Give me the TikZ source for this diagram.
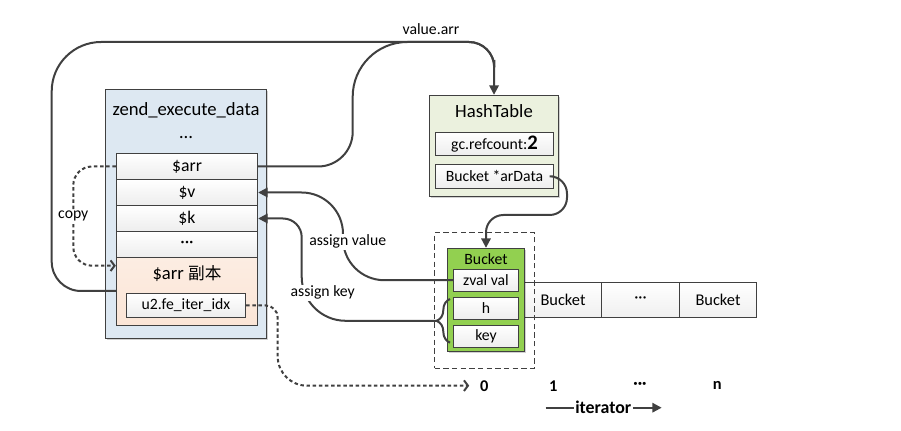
\documentclass[tikz,border=0pt]{standalone}
\usepackage{fontspec}
\setmainfont{Carlito}
\newfontfamily\cjk{Noto Sans CJK SC}
\usetikzlibrary{arrows.meta,calc,shadows,decorations.pathreplacing}
\definecolor{zdBlue}{RGB}{221,232,242}
\definecolor{zdOrange}{RGB}{251,229,214}
\definecolor{zdOlive}{RGB}{235,241,222}
\definecolor{zdGreen}{RGB}{146,208,80}
\definecolor{zdGray}{RGB}{64,64,64}
\newcommand\fsBig{\fontsize{14}{16}\selectfont}
\newcommand\fsRow{\fontsize{13.3}{15}\selectfont}
\newcommand\fsSmall{\fontsize{11.8}{13}\selectfont}
\newcommand\mdots{\textperiodcentered\textperiodcentered\textperiodcentered}
\tikzset{
  box/.style={draw=zdGray, line width=0.75pt, inner sep=0pt},
  shd/.style={drop shadow={shadow xshift=1.3pt, shadow yshift=-1.3pt, fill=black, opacity=0.18}},
  row/.style={box, top color=white, bottom color=gray!14, minimum width=106pt, minimum height=19.5pt, font=\fsRow},
  ibox/.style={box, top color=white, bottom color=gray!14, minimum width=88.8pt, minimum height=17.6pt, font=\fsSmall},
  cell/.style={box, top color=white, bottom color=gray!12, minimum width=58pt, minimum height=26.25pt, font=\fontsize{12.3}{14}\selectfont},
  lbl/.style={font=\fsSmall, inner sep=1pt},
  idx/.style={font=\fontsize{12.3}{14}\selectfont\bfseries, inner sep=2pt},
  link/.style={draw=zdGray, line width=1.5pt},
  ptr/.style={link, -{Triangle[length=7pt,width=7pt]}},
  dptr/.style={link, dash pattern=on 2.6pt off 2pt, -{Straight Barb[length=3pt,width=8pt]}}
}

\begin{document}
\begin{tikzpicture}[x=0.75pt, y=-0.75pt]
  \useasboundingbox (0,0) rectangle (901,431);

  % execute data frame
  \node[box, fill=zdBlue, shd, minimum width=121pt, minimum height=186.5pt] (zed) at (186,213.7) {};
  \node[font=\fsBig] (zedT) at (186,110) {zend\_execute\_data};
  \node[font=\fsBig, inner sep=0pt] (zedD) at (186,138) {\dots};
  \foreach \y/\nm/\txt in {166.5/rArr/\$arr, 192.5/rV/\$v, 218.5/rK/\$k, 244.5/rDots/\mdots}
    \node[row] (\nm) at (187,\y) {\txt};
  \node[box, top color=zdOrange!70, bottom color=zdOrange, minimum width=106pt, minimum height=50.9pt] (orng) at (187,291.4) {};
  \node[font=\fsBig] (orngT) at (187,274) {\$arr {\cjk\fontsize{12.5}{14}\selectfont 副本}};
  \node[ibox, minimum width=89.5pt] (iter) at (186,305.5) {u2.fe\_iter\_idx};

  % hash table
  \node[box, fill=zdOlive, shd, minimum width=96.5pt, minimum height=75.75pt] (ht) at (494,145.8) {};
  \node[font=\fsBig] (htT) at (494,111) {HashTable};
  \node[ibox] (rc) at (494.5,143.8) {gc.refcount:{\fontsize{15.5}{16}\selectfont\bfseries 2}};
  \node[ibox, minimum height=18pt] (ard) at (494.5,176.3) {Bucket *arData};

  % buckets
  \foreach \x/\nm/\txt in {563/cA/Bucket, 640.5/cB/\mdots, 718/cC/Bucket}
    \node[cell] (\nm) at (\x,299.8) {\txt};
  \node[draw=zdGray, line width=0.6pt, dash pattern=on 4pt off 2.5pt, minimum width=74.5pt, minimum height=102pt] (frm) at (484.3,300.3) {};
  \node[box, fill=zdGreen, shd, minimum width=57.5pt, minimum height=77.5pt] (bkt) at (486,300) {};
  \node[font=\fsSmall] (bktT) at (486,259) {Bucket};
  \node[ibox, minimum width=49pt, minimum height=16.3pt] (zv) at (486,280.2) {zval val};
  \node[ibox, minimum width=49pt, minimum height=16.5pt] (hh) at (486,308.3) {h};
  \node[ibox, minimum width=49pt, minimum height=16.8pt] (ky) at (486,336.5) {key};

  % iterator positions
  \foreach \x/\nm/\txt in {484.3/i0/0, 553.3/i1/1, 640/i2/\mdots, 717.3/i3/n}
    \node[idx] (\nm) at (\x,385.7) {\txt};
  \node[font=\fontsize{13.4}{15}\selectfont\bfseries, inner sep=1pt] (itr) at (603.3,407.7) {iterator};
  \coordinate (itA) at (545.7,407.7);
  \coordinate (itB) at (661.7,407.7);
  \draw[link] (itA) -- (itr.west);
  \draw[ptr] (itr.east) -- (itB);

  % value.arr pointers
  \draw[ptr] (orng.west |- 0,291) [rounded corners=22pt] -- (51.7,291) [rounded corners=37pt] -- (51.7,42)
    [rounded corners=19pt] -- (494.3,42) -- (ht.north);
  \draw[link] (rArr.east) [rounded corners=26pt] -- (352.7,166.5) [rounded corners=41pt] -- (352.7,42)
    [rounded corners=19pt] -- (494.3,42) -- (494.3,60);
  \node[lbl] (valL) at (431,29) {value.arr};

  % arData -> bucket
  \draw[ptr, rounded corners=13pt] (ard.east) -- (567,176.3) -- (567,215) -- (486,215) -- (bkt.north);

  % assign value / key
  \draw[ptr, rounded corners=31pt] (zv.west) -- (343,280.2) -- (343,192.5) -- (rV.east);
  \node[lbl, fill=white] (avL) at (347.7,241.7) {assign value};
  \draw[link, decorate, decoration={brace, amplitude=10pt}] (450,342.7) -- (450,299);
  \coordinate (brc) at (437,320.8);
  \draw[ptr] (brc) [rounded corners=33pt] -- (301.7,320.8) [rounded corners=14pt] -- (301.7,218.5) -- (rK.east);
  \node[lbl, fill=white] (akL) at (322.7,292.7) {assign key};

  % copy
  \draw[dptr, rounded corners=14pt] (rArr.west) -- (73.3,166.5) -- (73.3,265.7) -- (orng.west |- 0,265.7);
  \node[lbl, fill=white] (cpL) at (73.3,216) {copy};

  % fe_iter_idx -> position
  \draw[dptr, shorten >=6pt] (iter.east) [rounded corners=9pt] -- (277.7,305.5) [rounded corners=22pt] -- (277.7,385.7) -- (i0.west);
\end{tikzpicture}
\end{document}
